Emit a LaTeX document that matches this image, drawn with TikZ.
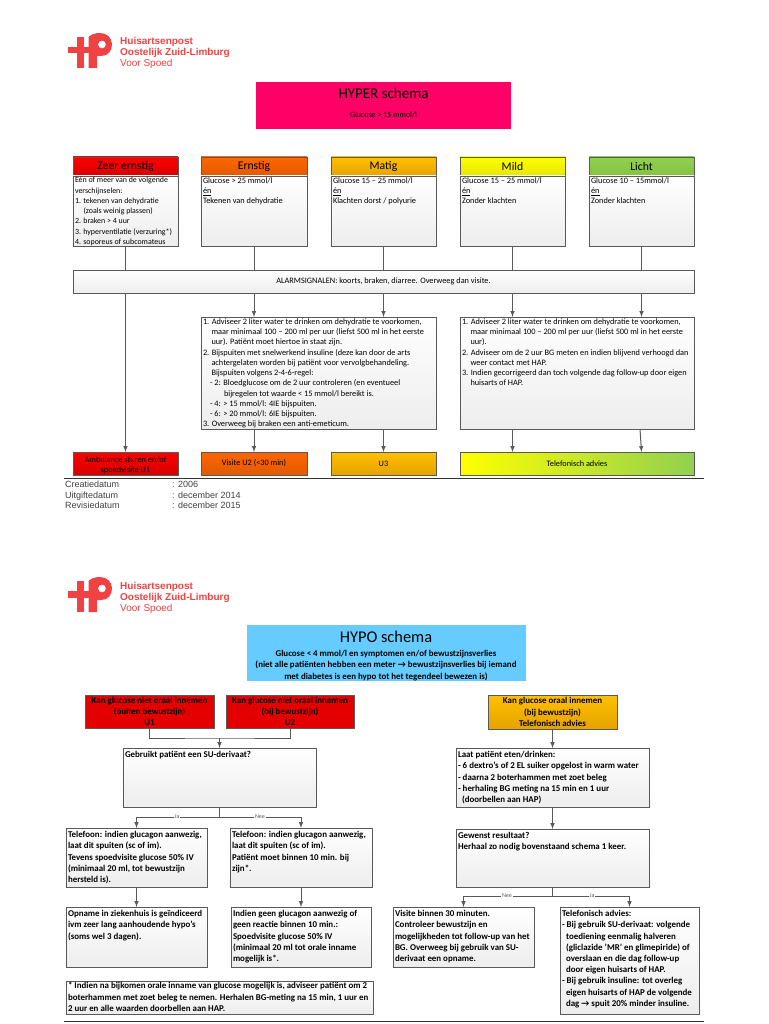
\documentclass[tikz,border=0pt]{standalone}
\usepackage{fontspec}
\setmainfont{Carlito}
\newfontfamily\arialfont{Liberation Sans}
\usetikzlibrary{shadows}

\definecolor{logoRed}{HTML}{F04242}
\definecolor{lineGray}{HTML}{595959}
\definecolor{hyperPink}{HTML}{FF0066}
\definecolor{hypoBlue}{HTML}{66CCFF}
\definecolor{zeerRed}{HTML}{FF0000}
\definecolor{zeerDark}{HTML}{D40000}
\definecolor{ernstOrange}{HTML}{FF6600}
\definecolor{ernstDark}{HTML}{E05A00}
\definecolor{matigAmber}{HTML}{FFC000}
\definecolor{matigDark}{HTML}{E6A200}
\definecolor{mildYellow}{HTML}{FFFF00}
\definecolor{mildDark}{HTML}{E6E600}
\definecolor{lichtGreen}{HTML}{92D050}
\definecolor{lichtDark}{HTML}{84C244}

\tikzset{
    boxbase/.style={draw=lineGray,line width=0.9pt,anchor=north west,inner xsep=2pt,inner ysep=1.5pt,outer sep=0pt,
        drop shadow={shadow xshift=1pt,shadow yshift=-1pt,fill=black,opacity=0.3}},
    whitebox/.style={boxbase,top color=white,bottom color=black!7},
    colorbox/.style={boxbase,align=center,inner sep=0pt},
    titlebox/.style={anchor=north west,inner sep=0pt,outer sep=0pt},
    flowline/.style={draw=lineGray,line width=1pt},
    flowarrow/.style={flowline,-latex},
    branchlabel/.style={fill=white,inner xsep=1pt,inner ysep=0pt,text=lineGray,font=\fontsize{6}{7}\selectfont},
    footertext/.style={anchor=base west,inner sep=0pt,text=black!75,font=\arialfont\fontsize{9}{10}\selectfont},
    logotext/.style={anchor=base west,inner sep=0pt,text=logoRed,font=\arialfont\bfseries\fontsize{10}{11}\selectfont},
}

% box with its text at the top: style, name, x, y, width, height, text
\newcommand\topBox[7][]{
    \node[whitebox,#1] (#2) at (#3,#4) {\parbox[c][\dimexpr#6pt-3pt\relax][t]{\dimexpr#5pt-4pt\relax}{\raggedright #7}};
}
\newcommand\hangline{\hspace*{8.5pt}}
\newcommand\hyperfont{\fontsize{8.3}{10.25}\selectfont}
\newcommand\zeerfont{\fontsize{7.9}{10.25}\selectfont}
\newcommand\hypofont{\bfseries\fontsize{8.9}{11.2}\selectfont}
\newcommand\hypotop{\hypofont\vspace*{2pt}}

% logo at a vertical offset, with a prefix for its node names
\newcommand\logoMark[2]{
    \begin{scope}[shift={(0,#2)}]
        \fill[logoRed] (68,47) rectangle (97,53.5);
        \fill[logoRed] (76.5,37) rectangle (84,68);
        \fill[logoRed] (88.5,37) -- (88.5,68) -- (97,68) -- (97,56) -- (101,56)
            .. controls (108,56) and (112,51) .. (112,44.5)
            .. controls (112,38) and (107,33) .. (100,33)
            .. controls (95,33) and (91,34.5) .. (88.5,37) -- cycle;
        \fill[white] (102,44.5) circle (3.8);
        \node[logotext] (#1One) at (120,45) {Huisartsenpost};
        \node[logotext] (#1Two) at (120,56) {Oostelijk Zuid-Limburg};
        \node[logotext,font=\arialfont\fontsize{10}{11}\selectfont] (#1Three) at (120,67) {Voor Spoed};
    \end{scope}
}

\begin{document}
\begin{tikzpicture}[x=1pt,y=-1pt]

    \useasboundingbox (0,0) rectangle (768,1024);
    \clip (0,0) rectangle (768,1024);

    %top sheet:
    \logoMark{logoHyper}{0}

    \node[titlebox,fill=hyperPink,minimum width=255pt,minimum height=47pt] (hyper) at (256,82) {};
    \node[font=\fontsize{15}{17}\selectfont] (hyperTitle) at (383.5,93) {HYPER schema};
    \node[font=\fontsize{8}{10}\selectfont] (hyperSub) at (383.5,115) {Glucose > 15 mmol/l};

    \node[colorbox,top color=zeerRed,bottom color=zeerDark,minimum width=105pt,minimum height=19pt,font=\fontsize{11.7}{13}\selectfont] (hdZeer) at (73,157) {Zeer ernstig};
    \node[colorbox,top color=ernstOrange,bottom color=ernstDark,minimum width=106pt,minimum height=19pt,font=\fontsize{11.7}{13}\selectfont] (hdErnstig) at (201,157) {Ernstig};
    \node[colorbox,top color=matigAmber,bottom color=matigDark,minimum width=105pt,minimum height=19pt,font=\fontsize{11.7}{13}\selectfont] (hdMatig) at (331,157) {Matig};
    \node[colorbox,top color=mildYellow,bottom color=mildDark,minimum width=105pt,minimum height=19pt,font=\fontsize{11.7}{13}\selectfont] (hdMild) at (460,157) {Mild};
    \node[colorbox,top color=lichtGreen,bottom color=lichtDark,minimum width=105pt,minimum height=19pt,font=\fontsize{11.7}{13}\selectfont] (hdLicht) at (589,157) {Licht};

    \topBox{zeer}{73}{176}{105}{70}{\zeerfont Eén of meer van de volgende\\verschijnselen:\\1. tekenen van dehydratie\\\hangline(zoals weinig plassen)\\2. braken > 4 uur\\3. hyperventilatie (verzuring*)\\4. soporeus of subcomateus}
    \topBox{ernstig}{201}{176}{106}{70}{\hyperfont Glucose > 25 mmol/l\\\underline{én}\\Tekenen van dehydratie}
    \topBox{matig}{331}{176}{105}{70}{\hyperfont Glucose 15 – 25 mmol/l\\\underline{én}\\Klachten dorst / polyurie}
    \topBox{mild}{460}{176}{105}{70}{\hyperfont Glucose 15 – 25 mmol/l\\\underline{én}\\Zonder klachten}
    \topBox{licht}{589}{176}{105}{70}{\hyperfont Glucose 10 – 15mmol/l\\\underline{én}\\Zonder klachten}

    \node[whitebox,minimum width=621pt,minimum height=23pt,inner sep=0pt,font=\hyperfont] (alarm) at (73,270) {ALARMSIGNALEN: koorts, braken, diarree. Overweeg dan visite.};

    \topBox{adviesLinks}{201}{317}{235}{112}{\hyperfont 1. Adviseer 2 liter water te drinken om dehydratie te voorkomen,\\\hangline maar minimaal 100 – 200 ml per uur (liefst 500 ml in het eerste\\\hangline uur). Patiënt moet hiertoe in staat zijn.\\2. Bijspuiten met snelwerkend insuline (deze kan door de arts\\\hangline achtergelaten worden bij patiënt voor vervolgbehandeling.\\\hangline Bijspuiten volgens 2-4-6-regel:\\\hspace*{7pt}- 2: Bloedglucose om de 2 uur controleren (en eventueel\\\hspace*{21pt}bijregelen tot waarde < 15 mmol/l bereikt is.\\\hspace*{7pt}- 4: > 15 mmol/l: 4IE bijspuiten.\\\hspace*{7pt}- 6: > 20 mmol/l: 6IE bijspuiten.\\3. Overweeg bij braken een anti-emeticum.}
    \topBox{adviesRechts}{460}{317}{234}{112}{\hyperfont 1. Adviseer 2 liter water te drinken om dehydratie te voorkomen,\\\hangline maar minimaal 100 – 200 ml per uur (liefst 500 ml in het eerste\\\hangline uur).\\2. Adviseer om de 2 uur BG meten en indien blijvend verhoogd dan\\\hangline weer contact met HAP.\\3. Indien gecorrigeerd dan toch volgende dag follow-up door eigen\\\hangline huisarts of HAP.}

    \node[colorbox,top color=zeerRed,bottom color=zeerDark,minimum width=105pt,minimum height=23pt,font=\hyperfont] (ambulance) at (73,452) {\rule{0pt}{9pt}Ambulance sturen en/of\\spoedvisite U1};
    \node[colorbox,top color=ernstOrange,bottom color=ernstDark,minimum width=106pt,minimum height=23pt,font=\hyperfont] (visiteU) at (201,452) {Visite U2 (<30 min)};
    \node[colorbox,top color=matigAmber,bottom color=matigDark,minimum width=105pt,minimum height=23pt,font=\hyperfont] (uDrie) at (331,452) {U3};
    \node[colorbox,left color=mildYellow,right color=lichtGreen,minimum width=234pt,minimum height=23pt,font=\hyperfont] (telefonisch) at (460,452) {Telefonisch advies};

    \foreach \lvl in {zeer,ernstig,matig,mild,licht}
        \draw[flowline] (\lvl.south) -- (\lvl.south |- alarm.north);

    \draw[flowarrow] (zeer.south |- alarm.south) -- (ambulance.north);
    \draw[flowarrow] (ernstig.south |- alarm.south) -- (ernstig.south |- adviesLinks.north);
    \draw[flowarrow] (matig.south |- alarm.south) -- (matig.south |- adviesLinks.north);
    \draw[flowarrow] (mild.south |- alarm.south) -- (mild.south |- adviesRechts.north);
    \draw[flowarrow] (licht.south |- alarm.south) -- (licht.south |- adviesRechts.north);

    \draw[flowarrow] (ernstig.south |- adviesLinks.south) -- (visiteU.north);
    \draw[flowarrow] (matig.south |- adviesLinks.south) -- (uDrie.north);
    \draw[flowarrow] (mild.south |- adviesRechts.south) -- (mild.south |- telefonisch.north);
    \coordinate (adviesUit) at (640,429);
    \draw[flowarrow] (adviesUit) -- (licht.south |- telefonisch.north);

    \coordinate (ruleOneA) at (64,478);
    \coordinate (ruleOneB) at (704,478);
    \draw[draw=black!80,line width=0.9pt] (ruleOneA) -- (ruleOneB);

    \node[footertext] (creatieOne) at (65,487) {Creatiedatum};
    \node[footertext] (creatieOneVal) at (172,487) {: 2006};
    \node[footertext] (uitgifteOne) at (65,498) {Uitgiftedatum};
    \node[footertext] (uitgifteOneVal) at (172,498) {: december 2014};
    \node[footertext] (revisieOne) at (65,508) {Revisiedatum};
    \node[footertext] (revisieOneVal) at (172,508) {: december 2015};

    %bottom sheet:
    \logoMark{logoHypo}{544}

    \node[titlebox,fill=hypoBlue,minimum width=279pt,minimum height=56pt] (hypo) at (247,625) {};
    \node[font=\fontsize{16.4}{18}\selectfont] (hypoTitle) at (386,637) {HYPO schema};
    \node[align=center,font=\bfseries\fontsize{8.9}{11.3}\selectfont] (hypoSub) at (386,665.5) {Glucose < 4 mmol/l en symptomen en/of bewustzijnsverlies\\(niet alle patiënten hebben een meter → bewustzijnsverlies bij iemand\\met diabetes is een hypo tot het tegendeel bewezen is)};

    \node[colorbox,fill=zeerRed!90!black,minimum width=129pt,minimum height=33pt,font=\hypofont] (uEen) at (85,695) {Kan glucose niet oraal innemen\\(buiten bewustzijn)\\U1};
    \node[colorbox,fill=zeerRed!90!black,minimum width=128pt,minimum height=33pt,font=\hypofont] (uTwee) at (226,695) {Kan glucose niet oraal innemen\\(bij bewustzijn)\\U2};
    \node[colorbox,top color=matigAmber,bottom color=matigDark,minimum width=129pt,minimum height=34pt,font=\hypofont] (oraal) at (488,695) {Kan glucose oraal innemen\\(bij bewustzijn)\\Telefonisch advies};

    \topBox{gebruikt}{123}{748}{193}{59}{\hypotop Gebruikt patiënt een SU-derivaat?}
    \topBox{telefoonJa}{66}{828}{141}{59}{\hypotop Telefoon: indien glucagon aanwezig,\\laat dit spuiten (sc of im).\\Tevens spoedvisite glucose 50\% IV\\(minimaal 20 ml, tot bewustzijn\\hersteld is).}
    \topBox{telefoonNee}{230}{828}{142}{59}{\hypotop Telefoon: indien glucagon aanwezig,\\laat dit spuiten (sc of im).\\Patiënt moet binnen 10 min. bij\\zijn*.}
    \topBox{opname}{66}{907}{141}{60}{\hypotop Opname in ziekenhuis is geïndiceerd\\ivm zeer lang aanhoudende hypo's\\(soms wel 3 dagen).}
    \topBox{geenGlucagon}{231}{907}{140}{60}{\hypotop Indien geen glucagon aanwezig of\\geen reactie binnen 10 min.:\\Spoedvisite glucose 50\% IV\\(minimaal 20 ml tot orale inname\\mogelijk is*.}
    \topBox{voetnoot}{66}{981}{307}{33}{\hypofont * Indien na bijkomen orale inname van glucose mogelijk is, adviseer patiënt om 2\\boterhammen met zoet beleg te nemen. Herhalen BG-meting na 15 min, 1 uur en\\2 uur en alle waarden doorbellen aan HAP.}

    \topBox{laatEten}{456}{748}{193}{59}{\hypotop Laat patiënt eten/drinken:\\- 6 dextro's of 2 EL suiker opgelost in warm water\\- daarna 2 boterhammen met zoet beleg\\- herhaling BG meting na 15 min en 1 uur\\\hspace*{4pt}(doorbellen aan HAP)}
    \topBox{gewenst}{456}{829}{193}{58}{\hypotop Gewenst resultaat?\\Herhaal zo nodig bovenstaand schema 1 keer.}
    \topBox{visiteNee}{393}{907}{141}{60}{\hypotop Visite binnen 30 minuten.\\Controleer bewustzijn en\\mogelijkheden tot follow-up van het\\BG. Overweeg bij gebruik van SU-\\derivaat een opname.}
    \topBox{adviesJa}{560}{907}{139}{107}{\hypotop Telefonisch advies:\\- Bij gebruik SU-derivaat: volgende\\\hspace*{4pt}toediening eenmalig halveren\\\hspace*{4pt}(gliclazide 'MR' en glimepiride) of\\\hspace*{4pt}overslaan en die dag follow-up\\\hspace*{4pt}door eigen huisarts of HAP.\\- Bij gebruik insuline: tot overleg\\\hspace*{4pt}eigen huisarts of HAP de volgende\\\hspace*{4pt}dag → spuit 20\% minder insuline.}

    \coordinate (samen) at (219.5,738);
    \draw[flowline] (uEen.south) |- (samen) -| (uTwee.south);
    \draw[flowarrow] (samen) -- (gebruikt.north);

    \coordinate (splitsLinks) at (219.5,817);
    \draw[flowline] (gebruikt.south) -- (splitsLinks);
    \draw[flowarrow] (splitsLinks) -| (telefoonJa.north);
    \draw[flowarrow] (splitsLinks) -| (telefoonNee.north);
    \node[branchlabel] (labelJaLinks) at (177,817) {Ja};
    \node[branchlabel] (labelNeeLinks) at (260,817) {Nee};

    \draw[flowarrow] (telefoonJa.south) -- (opname.north -| telefoonJa.south);
    \draw[flowarrow] (telefoonNee.south) -- (geenGlucagon.north -| telefoonNee.south);

    \draw[flowarrow] (oraal.south) -- (laatEten.north -| oraal.south);
    \draw[flowarrow] (laatEten.south) -- (gewenst.north);

    \coordinate (splitsRechts) at (552.5,896);
    \draw[flowline] (gewenst.south) -- (splitsRechts);
    \draw[flowarrow] (splitsRechts) -| (visiteNee.north);
    \draw[flowarrow] (splitsRechts) -| (adviesJa.north);
    \node[branchlabel] (labelNeeRechts) at (507,896) {Nee};
    \node[branchlabel] (labelJaRechts) at (592,896) {Ja};

    \coordinate (ruleTwoA) at (64,1021);
    \coordinate (ruleTwoB) at (704,1021);
    \draw[draw=black!80,line width=0.9pt] (ruleTwoA) -- (ruleTwoB);

    \node[footertext] (creatieTwo) at (65,1031) {Creatiedatum};
    \node[footertext] (creatieTwoVal) at (172,1031) {: 2006};

\end{tikzpicture}
\end{document}
